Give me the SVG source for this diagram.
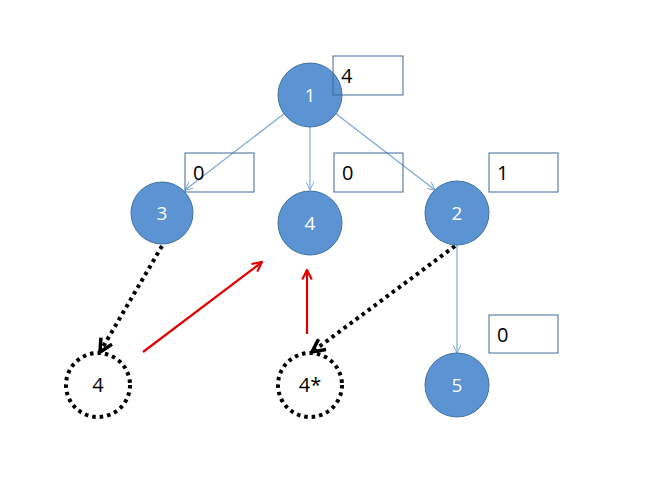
<svg xmlns="http://www.w3.org/2000/svg" width="658" height="492" viewBox="0 0 658 492">
<style>
.n circle{fill:#5B93D3;stroke:#41719C;stroke-width:1}
.n text{fill:#fff;font-family:"Open Sans","Liberation Sans",sans-serif;font-size:19px;text-anchor:middle}
.d circle{fill:none;stroke:#000;stroke-width:4;stroke-dasharray:3.5 4}
.d text{fill:#000;font-family:"Open Sans","Liberation Sans",sans-serif;font-size:20px;text-anchor:middle}
.b rect{fill:none;stroke:#3F6A9A;stroke-width:1}
.b text{fill:#000;font-family:"Open Sans","Liberation Sans",sans-serif;font-size:20px}
.e{stroke:#7BA7D9;stroke-width:1.2;fill:none}
.k{stroke:#000;stroke-width:4;stroke-dasharray:3.5 4;fill:none}
.r{stroke:#E00000;stroke-width:2.2;fill:none}
</style>
<defs>
<marker id="ab" viewBox="0 0 10 10" refX="10" refY="5" markerWidth="8" markerHeight="8" orient="auto" markerUnits="userSpaceOnUse"><path d="M0,0 L10,5 L0,10" fill="none" stroke="#7BA7D9" stroke-width="1.2"/></marker>
<marker id="ak" viewBox="0 0 10 10" refX="9" refY="5" markerWidth="16" markerHeight="16" orient="auto" markerUnits="userSpaceOnUse"><path d="M1,1 L9,5 L1,9" fill="none" stroke="#000" stroke-width="2.2"/></marker>
<marker id="ar" viewBox="0 0 10 10" refX="9" refY="5" markerWidth="12" markerHeight="12" orient="auto" markerUnits="userSpaceOnUse"><path d="M1,1 L9,5 L1,9" fill="none" stroke="#E00000" stroke-width="1.8"/></marker>
</defs>
<rect width="658" height="492" fill="#fff"/>
<g id="connectors">
<line class="e" x1="285" y1="113" x2="185" y2="190" marker-end="url(#ab)"/>
<line class="e" x1="310" y1="127" x2="310" y2="190" marker-end="url(#ab)"/>
<line class="e" x1="335" y1="113" x2="435" y2="190" marker-end="url(#ab)"/>
<line class="e" x1="457" y1="245" x2="457" y2="353" marker-end="url(#ab)"/>
<line class="k" x1="162" y1="246" x2="100" y2="352" marker-end="url(#ak)"/>
<line class="k" x1="455" y1="246" x2="312" y2="352" marker-end="url(#ak)"/>
<line class="r" x1="143" y1="352" x2="262" y2="262" marker-end="url(#ar)"/>
<line class="r" x1="307" y1="334" x2="307" y2="270" marker-end="url(#ar)"/>
</g>
<g id="node1" class="n"><circle cx="310" cy="95" r="32"/><text x="310" y="102">1</text></g>
<g id="node3" class="n"><circle cx="162" cy="213" r="31"/><text x="162" y="220">3</text></g>
<g id="node4" class="n"><circle cx="310" cy="223" r="32"/><text x="310" y="230">4</text></g>
<g id="node2" class="n"><circle cx="457" cy="213" r="32"/><text x="457" y="220">2</text></g>
<g id="node5" class="n"><circle cx="457" cy="385" r="32"/><text x="457" y="392">5</text></g>
<g id="dnode4" class="d"><circle cx="98" cy="385" r="32"/><text x="98" y="392">4</text></g>
<g id="dnode4s" class="d"><circle cx="310" cy="385" r="32"/><text x="310" y="392">4*</text></g>
<g id="box1" class="b"><rect x="333" y="56" width="70" height="39"/><text x="341" y="83">4</text></g>
<g id="box3" class="b"><rect x="185" y="153" width="69" height="39"/><text x="193" y="180">0</text></g>
<g id="box4" class="b"><rect x="334" y="153" width="69" height="39"/><text x="342" y="180">0</text></g>
<g id="box2" class="b"><rect x="489" y="153" width="69" height="39"/><text x="497" y="180">1</text></g>
<g id="box5" class="b"><rect x="489" y="315" width="69" height="38"/><text x="497" y="342">0</text></g>
</svg>
